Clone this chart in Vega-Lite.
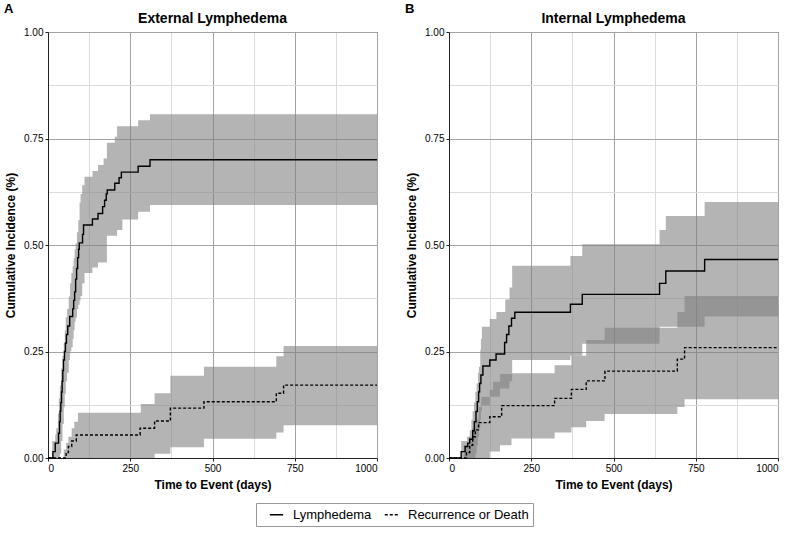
{
"$schema": "https://vega.github.io/schema/vega-lite/v6.json",
"background": "white",
"padding": {"left": 4, "top": 2, "right": 10, "bottom": 5},
"datasets": {
"curves": [
{"panel":"A","series":"Lymphedema","t":0,"v":0},{"panel":"A","series":"Lymphedema","t":15,"v":0.015},{"panel":"A","series":"Lymphedema","t":22,"v":0.035},{"panel":"A","series":"Lymphedema","t":32,"v":0.058},{"panel":"A","series":"Lymphedema","t":35,"v":0.085},{"panel":"A","series":"Lymphedema","t":37,"v":0.11},{"panel":"A","series":"Lymphedema","t":39,"v":0.13},{"panel":"A","series":"Lymphedema","t":41,"v":0.155},{"panel":"A","series":"Lymphedema","t":43,"v":0.18},{"panel":"A","series":"Lymphedema","t":45,"v":0.205},{"panel":"A","series":"Lymphedema","t":47,"v":0.23},{"panel":"A","series":"Lymphedema","t":50,"v":0.25},{"panel":"A","series":"Lymphedema","t":53,"v":0.27},{"panel":"A","series":"Lymphedema","t":56,"v":0.29},{"panel":"A","series":"Lymphedema","t":60,"v":0.31},{"panel":"A","series":"Lymphedema","t":66,"v":0.332},{"panel":"A","series":"Lymphedema","t":75,"v":0.35},{"panel":"A","series":"Lymphedema","t":78,"v":0.37},{"panel":"A","series":"Lymphedema","t":81,"v":0.39},{"panel":"A","series":"Lymphedema","t":84,"v":0.42},{"panel":"A","series":"Lymphedema","t":87,"v":0.445},{"panel":"A","series":"Lymphedema","t":90,"v":0.47},{"panel":"A","series":"Lymphedema","t":93,"v":0.49},{"panel":"A","series":"Lymphedema","t":95,"v":0.505},{"panel":"A","series":"Lymphedema","t":105,"v":0.525},{"panel":"A","series":"Lymphedema","t":108,"v":0.547},{"panel":"A","series":"Lymphedema","t":135,"v":0.561},{"panel":"A","series":"Lymphedema","t":152,"v":0.574},{"panel":"A","series":"Lymphedema","t":166,"v":0.59},{"panel":"A","series":"Lymphedema","t":172,"v":0.605},{"panel":"A","series":"Lymphedema","t":177,"v":0.62},{"panel":"A","series":"Lymphedema","t":180,"v":0.629},{"panel":"A","series":"Lymphedema","t":203,"v":0.645},{"panel":"A","series":"Lymphedema","t":216,"v":0.658},{"panel":"A","series":"Lymphedema","t":223,"v":0.671},{"panel":"A","series":"Lymphedema","t":274,"v":0.685},{"panel":"A","series":"Lymphedema","t":310,"v":0.70},{"panel":"A","series":"Lymphedema","t":1000,"v":0.70},
{"panel":"A","series":"Recurrence or Death","t":0,"v":0},{"panel":"A","series":"Recurrence or Death","t":55,"v":0.013},{"panel":"A","series":"Recurrence or Death","t":62,"v":0.027},{"panel":"A","series":"Recurrence or Death","t":72,"v":0.04},{"panel":"A","series":"Recurrence or Death","t":86,"v":0.054},{"panel":"A","series":"Recurrence or Death","t":280,"v":0.07},{"panel":"A","series":"Recurrence or Death","t":324,"v":0.087},{"panel":"A","series":"Recurrence or Death","t":372,"v":0.117},{"panel":"A","series":"Recurrence or Death","t":474,"v":0.132},{"panel":"A","series":"Recurrence or Death","t":694,"v":0.152},{"panel":"A","series":"Recurrence or Death","t":716,"v":0.171},{"panel":"A","series":"Recurrence or Death","t":1000,"v":0.171},
{"panel":"B","series":"Lymphedema","t":0,"v":0},{"panel":"B","series":"Lymphedema","t":37,"v":0.015},{"panel":"B","series":"Lymphedema","t":49,"v":0.027},{"panel":"B","series":"Lymphedema","t":57,"v":0.035},{"panel":"B","series":"Lymphedema","t":63,"v":0.044},{"panel":"B","series":"Lymphedema","t":72,"v":0.064},{"panel":"B","series":"Lymphedema","t":77,"v":0.085},{"panel":"B","series":"Lymphedema","t":82,"v":0.109},{"panel":"B","series":"Lymphedema","t":86,"v":0.132},{"panel":"B","series":"Lymphedema","t":90,"v":0.155},{"panel":"B","series":"Lymphedema","t":93,"v":0.175},{"panel":"B","series":"Lymphedema","t":97,"v":0.195},{"panel":"B","series":"Lymphedema","t":103,"v":0.216},{"panel":"B","series":"Lymphedema","t":124,"v":0.23},{"panel":"B","series":"Lymphedema","t":143,"v":0.244},{"panel":"B","series":"Lymphedema","t":169,"v":0.271},{"panel":"B","series":"Lymphedema","t":175,"v":0.29},{"panel":"B","series":"Lymphedema","t":182,"v":0.31},{"panel":"B","series":"Lymphedema","t":190,"v":0.328},{"panel":"B","series":"Lymphedema","t":200,"v":0.342},{"panel":"B","series":"Lymphedema","t":369,"v":0.361},{"panel":"B","series":"Lymphedema","t":405,"v":0.384},{"panel":"B","series":"Lymphedema","t":640,"v":0.41},{"panel":"B","series":"Lymphedema","t":659,"v":0.439},{"panel":"B","series":"Lymphedema","t":777,"v":0.466},{"panel":"B","series":"Lymphedema","t":1000,"v":0.466},
{"panel":"B","series":"Recurrence or Death","t":0,"v":0},{"panel":"B","series":"Recurrence or Death","t":53,"v":0.013},{"panel":"B","series":"Recurrence or Death","t":63,"v":0.03},{"panel":"B","series":"Recurrence or Death","t":72,"v":0.05},{"panel":"B","series":"Recurrence or Death","t":80,"v":0.066},{"panel":"B","series":"Recurrence or Death","t":90,"v":0.083},{"panel":"B","series":"Recurrence or Death","t":124,"v":0.097},{"panel":"B","series":"Recurrence or Death","t":160,"v":0.123},{"panel":"B","series":"Recurrence or Death","t":321,"v":0.14},{"panel":"B","series":"Recurrence or Death","t":372,"v":0.161},{"panel":"B","series":"Recurrence or Death","t":417,"v":0.181},{"panel":"B","series":"Recurrence or Death","t":474,"v":0.204},{"panel":"B","series":"Recurrence or Death","t":694,"v":0.232},{"panel":"B","series":"Recurrence or Death","t":716,"v":0.259},{"panel":"B","series":"Recurrence or Death","t":1000,"v":0.259}
],
"bands": [
{"panel":"A","series":"Lymphedema","t":0,"lo":0,"hi":0},{"panel":"A","series":"Lymphedema","t":13,"lo":0,"hi":0.04},{"panel":"A","series":"Lymphedema","t":22,"lo":0,"hi":0.055},{"panel":"A","series":"Lymphedema","t":25,"lo":0,"hi":0.07},{"panel":"A","series":"Lymphedema","t":30,"lo":0,"hi":0.105},{"panel":"A","series":"Lymphedema","t":33,"lo":0,"hi":0.14},{"panel":"A","series":"Lymphedema","t":36,"lo":0.01,"hi":0.17},{"panel":"A","series":"Lymphedema","t":40,"lo":0.04,"hi":0.21},{"panel":"A","series":"Lymphedema","t":44,"lo":0.08,"hi":0.24},{"panel":"A","series":"Lymphedema","t":48,"lo":0.12,"hi":0.27},{"panel":"A","series":"Lymphedema","t":51,"lo":0.15,"hi":0.30},{"panel":"A","series":"Lymphedema","t":54,"lo":0.18,"hi":0.33},{"panel":"A","series":"Lymphedema","t":58,"lo":0.20,"hi":0.35},{"panel":"A","series":"Lymphedema","t":63,"lo":0.23,"hi":0.379},{"panel":"A","series":"Lymphedema","t":67,"lo":0.25,"hi":0.41},{"panel":"A","series":"Lymphedema","t":71,"lo":0.26,"hi":0.434},{"panel":"A","series":"Lymphedema","t":75,"lo":0.28,"hi":0.45},{"panel":"A","series":"Lymphedema","t":78,"lo":0.30,"hi":0.47},{"panel":"A","series":"Lymphedema","t":81,"lo":0.32,"hi":0.49},{"panel":"A","series":"Lymphedema","t":84,"lo":0.33,"hi":0.504},{"panel":"A","series":"Lymphedema","t":88,"lo":0.35,"hi":0.53},{"panel":"A","series":"Lymphedema","t":92,"lo":0.36,"hi":0.558},{"panel":"A","series":"Lymphedema","t":96,"lo":0.37,"hi":0.60},{"panel":"A","series":"Lymphedema","t":99,"lo":0.38,"hi":0.62},{"panel":"A","series":"Lymphedema","t":104,"lo":0.41,"hi":0.64},{"panel":"A","series":"Lymphedema","t":111,"lo":0.434,"hi":0.66},{"panel":"A","series":"Lymphedema","t":135,"lo":0.447,"hi":0.674},{"panel":"A","series":"Lymphedema","t":152,"lo":0.459,"hi":0.688},{"panel":"A","series":"Lymphedema","t":169,"lo":0.459,"hi":0.703},{"panel":"A","series":"Lymphedema","t":179,"lo":0.522,"hi":0.74},{"panel":"A","series":"Lymphedema","t":203,"lo":0.522,"hi":0.754},{"panel":"A","series":"Lymphedema","t":210,"lo":0.535,"hi":0.779},{"panel":"A","series":"Lymphedema","t":226,"lo":0.56,"hi":0.779},{"panel":"A","series":"Lymphedema","t":274,"lo":0.578,"hi":0.793},{"panel":"A","series":"Lymphedema","t":310,"lo":0.594,"hi":0.807},{"panel":"A","series":"Lymphedema","t":1000,"lo":0.594,"hi":0.807},
{"panel":"A","series":"Recurrence or Death","t":0,"lo":0,"hi":0},{"panel":"A","series":"Recurrence or Death","t":48,"lo":0,"hi":0.02},{"panel":"A","series":"Recurrence or Death","t":55,"lo":0,"hi":0.035},{"panel":"A","series":"Recurrence or Death","t":62,"lo":0,"hi":0.05},{"panel":"A","series":"Recurrence or Death","t":72,"lo":0,"hi":0.07},{"panel":"A","series":"Recurrence or Death","t":80,"lo":0,"hi":0.085},{"panel":"A","series":"Recurrence or Death","t":91,"lo":0,"hi":0.106},{"panel":"A","series":"Recurrence or Death","t":282,"lo":0,"hi":0.127},{"panel":"A","series":"Recurrence or Death","t":324,"lo":0.01,"hi":0.152},{"panel":"A","series":"Recurrence or Death","t":372,"lo":0.025,"hi":0.193},{"panel":"A","series":"Recurrence or Death","t":474,"lo":0.045,"hi":0.214},{"panel":"A","series":"Recurrence or Death","t":694,"lo":0.06,"hi":0.239},{"panel":"A","series":"Recurrence or Death","t":716,"lo":0.077,"hi":0.263},{"panel":"A","series":"Recurrence or Death","t":1000,"lo":0.077,"hi":0.263},
{"panel":"B","series":"Lymphedema","t":0,"lo":0,"hi":0},{"panel":"B","series":"Lymphedema","t":37,"lo":0,"hi":0.04},{"panel":"B","series":"Lymphedema","t":55,"lo":0,"hi":0.05},{"panel":"B","series":"Lymphedema","t":63,"lo":0,"hi":0.065},{"panel":"B","series":"Lymphedema","t":68,"lo":0,"hi":0.09},{"panel":"B","series":"Lymphedema","t":72,"lo":0,"hi":0.11},{"panel":"B","series":"Lymphedema","t":76,"lo":0,"hi":0.13},{"panel":"B","series":"Lymphedema","t":80,"lo":0.01,"hi":0.155},{"panel":"B","series":"Lymphedema","t":84,"lo":0.03,"hi":0.175},{"panel":"B","series":"Lymphedema","t":88,"lo":0.05,"hi":0.20},{"panel":"B","series":"Lymphedema","t":91,"lo":0.07,"hi":0.214},{"panel":"B","series":"Lymphedema","t":95,"lo":0.09,"hi":0.254},{"panel":"B","series":"Lymphedema","t":97,"lo":0.11,"hi":0.28},{"panel":"B","series":"Lymphedema","t":100,"lo":0.124,"hi":0.308},{"panel":"B","series":"Lymphedema","t":124,"lo":0.144,"hi":0.326},{"panel":"B","series":"Lymphedema","t":144,"lo":0.144,"hi":0.343},{"panel":"B","series":"Lymphedema","t":155,"lo":0.163,"hi":0.343},{"panel":"B","series":"Lymphedema","t":171,"lo":0.163,"hi":0.372},{"panel":"B","series":"Lymphedema","t":184,"lo":0.18,"hi":0.40},{"panel":"B","series":"Lymphedema","t":192,"lo":0.23,"hi":0.451},{"panel":"B","series":"Lymphedema","t":369,"lo":0.24,"hi":0.474},{"panel":"B","series":"Lymphedema","t":405,"lo":0.268,"hi":0.502},{"panel":"B","series":"Lymphedema","t":640,"lo":0.308,"hi":0.535},{"panel":"B","series":"Lymphedema","t":659,"lo":0.308,"hi":0.568},{"panel":"B","series":"Lymphedema","t":777,"lo":0.332,"hi":0.601},{"panel":"B","series":"Lymphedema","t":1000,"lo":0.332,"hi":0.601},
{"panel":"B","series":"Recurrence or Death","t":0,"lo":0,"hi":0},{"panel":"B","series":"Recurrence or Death","t":45,"lo":0,"hi":0.03},{"panel":"B","series":"Recurrence or Death","t":60,"lo":0,"hi":0.05},{"panel":"B","series":"Recurrence or Death","t":70,"lo":0,"hi":0.07},{"panel":"B","series":"Recurrence or Death","t":80,"lo":0,"hi":0.09},{"panel":"B","series":"Recurrence or Death","t":90,"lo":0,"hi":0.12},{"panel":"B","series":"Recurrence or Death","t":98,"lo":0,"hi":0.144},{"panel":"B","series":"Recurrence or Death","t":124,"lo":0.015,"hi":0.16},{"panel":"B","series":"Recurrence or Death","t":134,"lo":0.015,"hi":0.179},{"panel":"B","series":"Recurrence or Death","t":155,"lo":0.03,"hi":0.197},{"panel":"B","series":"Recurrence or Death","t":190,"lo":0.046,"hi":0.199},{"panel":"B","series":"Recurrence or Death","t":321,"lo":0.06,"hi":0.218},{"panel":"B","series":"Recurrence or Death","t":372,"lo":0.072,"hi":0.24},{"panel":"B","series":"Recurrence or Death","t":417,"lo":0.087,"hi":0.277},{"panel":"B","series":"Recurrence or Death","t":473,"lo":0.103,"hi":0.306},{"panel":"B","series":"Recurrence or Death","t":694,"lo":0.12,"hi":0.343},{"panel":"B","series":"Recurrence or Death","t":716,"lo":0.138,"hi":0.38},{"panel":"B","series":"Recurrence or Death","t":1000,"lo":0.138,"hi":0.38}
]
},
"hconcat": [
{
"title": {"text": "A", "anchor": "start", "fontSize": 13, "offset": -4},
"vconcat": [{
"width": 329, "height": 426,
"title": {"text": "External Lymphedema", "offset": 1},
"encoding": {"x": {"field": "t", "type": "quantitative", "scale": {"domain": [0, 1000], "nice": false},
"axis": {"title": "Time to Event (days)", "values": [0,125,250,375,500,625,750,875,1000], "format": "d", "labelExpr": "datum.value % 250 === 0 ? datum.label : ''", "gridColor": {"condition": {"test": "datum.value % 250 === 0", "value": "#a3a3a3"}, "value": "#dcdcdc"}, "tickOpacity": {"condition": {"test": "datum.value % 250 === 0", "value": 1}, "value": 0}}}},
"layer": [
{"data": {"name": "bands"}, "transform": [{"filter": "datum.panel === 'A'"}],
"mark": {"type": "area", "interpolate": "step-after", "color": "#7f7f7f", "opacity": 0.59},
"encoding": {"y": {"field": "lo", "type": "quantitative", "scale": {"domain": [0, 1], "nice": false},
"axis": {"title": "Cumulative Incidence (%)", "values": [0,0.125,0.25,0.375,0.5,0.625,0.75,0.875,1], "format": ".2f", "labelExpr": "datum.value % 0.25 === 0 ? datum.label : ''", "gridColor": {"condition": {"test": "datum.value % 0.25 === 0", "value": "#a3a3a3"}, "value": "#dcdcdc"}, "tickOpacity": {"condition": {"test": "datum.value % 0.25 === 0", "value": 1}, "value": 0}}},
"y2": {"field": "hi"}, "detail": {"field": "series"}}},
{"data": {"name": "curves"}, "transform": [{"filter": "datum.panel === 'A'"}],
"mark": {"type": "line", "interpolate": "step-after", "color": "black", "strokeWidth": 1.4},
"encoding": {"y": {"field": "v", "type": "quantitative", "scale": {"domain": [0, 1], "nice": false}},
"strokeDash": {"field": "series", "type": "nominal", "scale": {"domain": ["Lymphedema", "Recurrence or Death"], "range": [[1, 0], [3, 2]]}, "legend": {"title": null, "orient": "none", "legendX": 208, "legendY": 471}}}}
]
}]
},
{
"title": {"text": "B", "anchor": "start", "fontSize": 13, "offset": -4},
"vconcat": [{
"width": 329, "height": 426,
"title": {"text": "Internal Lymphedema", "offset": 1},
"encoding": {"x": {"field": "t", "type": "quantitative", "scale": {"domain": [0, 1000], "nice": false},
"axis": {"title": "Time to Event (days)", "values": [0,125,250,375,500,625,750,875,1000], "format": "d", "labelExpr": "datum.value % 250 === 0 ? datum.label : ''", "gridColor": {"condition": {"test": "datum.value % 250 === 0", "value": "#a3a3a3"}, "value": "#dcdcdc"}, "tickOpacity": {"condition": {"test": "datum.value % 250 === 0", "value": 1}, "value": 0}}}},
"layer": [
{"data": {"name": "bands"}, "transform": [{"filter": "datum.panel === 'B'"}],
"mark": {"type": "area", "interpolate": "step-after", "color": "#7f7f7f", "opacity": 0.59},
"encoding": {"y": {"field": "lo", "type": "quantitative", "scale": {"domain": [0, 1], "nice": false},
"axis": {"title": "Cumulative Incidence (%)", "values": [0,0.125,0.25,0.375,0.5,0.625,0.75,0.875,1], "format": ".2f", "labelExpr": "datum.value % 0.25 === 0 ? datum.label : ''", "gridColor": {"condition": {"test": "datum.value % 0.25 === 0", "value": "#a3a3a3"}, "value": "#dcdcdc"}, "tickOpacity": {"condition": {"test": "datum.value % 0.25 === 0", "value": 1}, "value": 0}}},
"y2": {"field": "hi"}, "detail": {"field": "series"}}},
{"data": {"name": "curves"}, "transform": [{"filter": "datum.panel === 'B'"}],
"mark": {"type": "line", "interpolate": "step-after", "color": "black", "strokeWidth": 1.4},
"encoding": {"y": {"field": "v", "type": "quantitative", "scale": {"domain": [0, 1], "nice": false}},
"strokeDash": {"field": "series", "type": "nominal", "scale": {"domain": ["Lymphedema", "Recurrence or Death"], "range": [[1, 0], [3, 2]]}, "legend": {"title": null, "orient": "none", "legendX": 208, "legendY": 471}}}}
]
}]
}
],
"spacing": 24,
"resolve": {"scale": {"strokeDash": "shared"}, "legend": {"strokeDash": "shared"}},
"config": {
"font": "Liberation Sans",
"view": {"stroke": "#222", "strokeWidth": 1},
"title": {"fontSize": 14, "fontWeight": "bold", "color": "black"},
"axis": {"labelFontSize": 10, "labelColor": "black", "titleFontSize": 12, "titleFontWeight": "bold", "titleColor": "black", "domainColor": "#222", "tickColor": "#222", "tickSize": 3, "labelPadding": 2, "grid": true, "gridWidth": 1, "titlePadding": 6},
"legend": {"direction": "horizontal", "strokeColor": "#999", "padding": 4, "labelFontSize": 13, "labelColor": "black", "symbolType": "stroke", "symbolStrokeColor": "black", "symbolStrokeWidth": 1.4, "symbolSize": 180, "symbolOffset": 9, "labelOffset": 9, "columnPadding": 3}
}
}
